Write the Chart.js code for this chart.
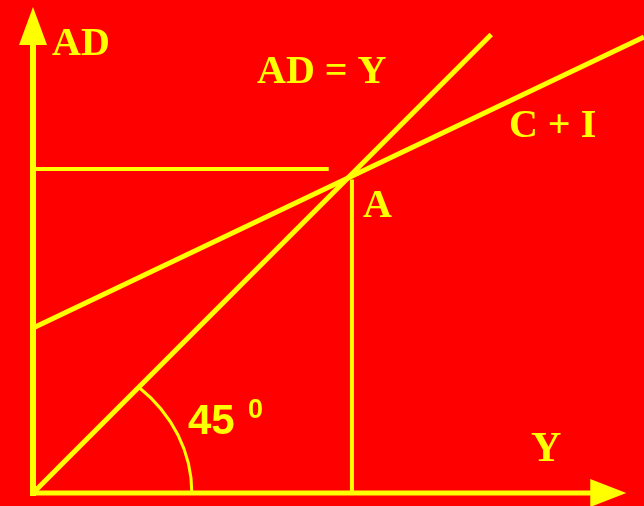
<!DOCTYPE html>
<html>
<head>
<meta charset="utf-8">
<script src="https://cdn.jsdelivr.net/npm/chart.js@4/dist/chart.umd.min.js"></script>
<style>
  html, body { margin: 0; padding: 0; background: #ff0000; overflow: hidden; }
  #wrap { width: 644px; height: 506px; }
</style>
</head>
<body>
<div id="wrap"><canvas id="c" width="644" height="506"></canvas></div>
<script>
// ---- data (economic units) ----
const incomeY = [0, 100];                    // Y axis range (income)
const adRange = [0, 80];                     // AD axis range
const line45X = [0, 75];                     // 45-degree line AD = Y
const line45Y = [0, 75];
const consInvX = [0, 100];                   // C + I line
const consInvY = [27.0, 74.6];
const equilHorizX = [0, 48.4];               // horizontal guide at equilibrium AD
const equilHorizY = [53.0, 53.0];
const equilVertX = [52.2, 52.2];             // vertical guide at equilibrium Y
const equilVertY = [0, 51.3];
const axisYEnd = [73.3, 79.5];               // AD axis: shaft end, arrow tip
const axisXEnd = [91.2, 97.1];               // Y axis: shaft end, arrow tip
const angleArcRadius = [26.0, 23.2];         // 45° marker arc radii (x, y units)

const labelTexts = ["AD", "AD = Y", "C + I", "A", "Y", "45", "0"];
const labelX = [3.11, 36.66, 77.9, 54.0, 81.5, 25.37, 35.19];
const labelY = [71.68, 67.10, 58.26, 45.17, 5.24, 9.66, 12.27];
const labelFonts = [
  'bold 40px "Liberation Serif"',
  'bold 40px "Liberation Serif"',
  'bold 40px "Liberation Serif"',
  'bold 40px "Liberation Serif"',
  'bold 42px "Liberation Serif"',
  'bold 42px "Liberation Sans"',
  'bold 27px "Liberation Sans"'
];

const YELLOW = '#ffff00';
const RED = '#ff0000';

function pts(xs, ys) { return xs.map((x, i) => ({ x: x, y: ys[i] })); }

const ds = (data, width, cap) => ({
  data: data,
  showLine: true,
  borderColor: YELLOW,
  backgroundColor: YELLOW,
  borderWidth: width,
  borderCapStyle: cap || 'butt',
  pointRadius: 0,
  tension: 0,
  clip: false
});

const decorPlugin = {
  id: 'decor',
  beforeDraw(chart) {
    const ctx = chart.ctx;
    ctx.save();
    ctx.fillStyle = RED;
    ctx.fillRect(0, 0, chart.width, chart.height);
    ctx.restore();
  },
  afterDatasetsDraw(chart) {
    const ctx = chart.ctx;
    const xs = chart.scales.x, ys = chart.scales.y;
    const px = v => xs.getPixelForValue(v);
    const py = v => ys.getPixelForValue(v);
    const ox = px(0), oy = py(0);
    ctx.save();
    ctx.fillStyle = YELLOW;
    ctx.strokeStyle = YELLOW;
    // arrowhead on AD axis
    ctx.beginPath();
    ctx.moveTo(ox, py(axisYEnd[1]));
    ctx.lineTo(ox - 14, py(axisYEnd[0]));
    ctx.lineTo(ox + 14, py(axisYEnd[0]));
    ctx.closePath();
    ctx.fill();
    // arrowhead on Y axis
    ctx.beginPath();
    ctx.moveTo(px(axisXEnd[1]), oy);
    ctx.lineTo(px(axisXEnd[0]), oy - 14);
    ctx.lineTo(px(axisXEnd[0]), oy + 14);
    ctx.closePath();
    ctx.fill();
    // 45 degree arc marker
    const rx = px(angleArcRadius[0]) - ox;
    const ry = oy - py(angleArcRadius[1]);
    const t = Math.atan2(rx, ry);
    ctx.lineWidth = 3;
    ctx.beginPath();
    ctx.ellipse(ox, oy, rx, ry, 0, -t, 0);
    ctx.stroke();
    // labels
    ctx.textAlign = 'left';
    ctx.textBaseline = 'alphabetic';
    labelTexts.forEach((txt, i) => {
      ctx.font = labelFonts[i];
      ctx.fillText(txt, px(labelX[i]), py(labelY[i]));
    });
    ctx.restore();
  }
};

new Chart(document.getElementById('c'), {
  type: 'scatter',
  data: {
    datasets: [
      ds(pts([0, 0], [0, axisYEnd[0]]), 6, 'square'),
      ds(pts([0, axisXEnd[0]], [0, 0]), 5, 'square'),
      ds(pts(line45X, line45Y), 5),
      ds(pts(consInvX, consInvY), 5),
      ds(pts(equilHorizX, equilHorizY), 4),
      ds(pts(equilVertX, equilVertY), 4)
    ]
  },
  options: {
    responsive: false,
    animation: false,
    events: [],
    layout: { padding: { left: 33, right: 0, top: 4, bottom: 13 } },
    scales: {
      x: { type: 'linear', min: incomeY[0], max: incomeY[1], display: false },
      y: { type: 'linear', min: adRange[0], max: adRange[1], display: false }
    },
    plugins: { legend: { display: false }, tooltip: { enabled: false } }
  },
  plugins: [decorPlugin]
});
</script>
</body>
</html>
